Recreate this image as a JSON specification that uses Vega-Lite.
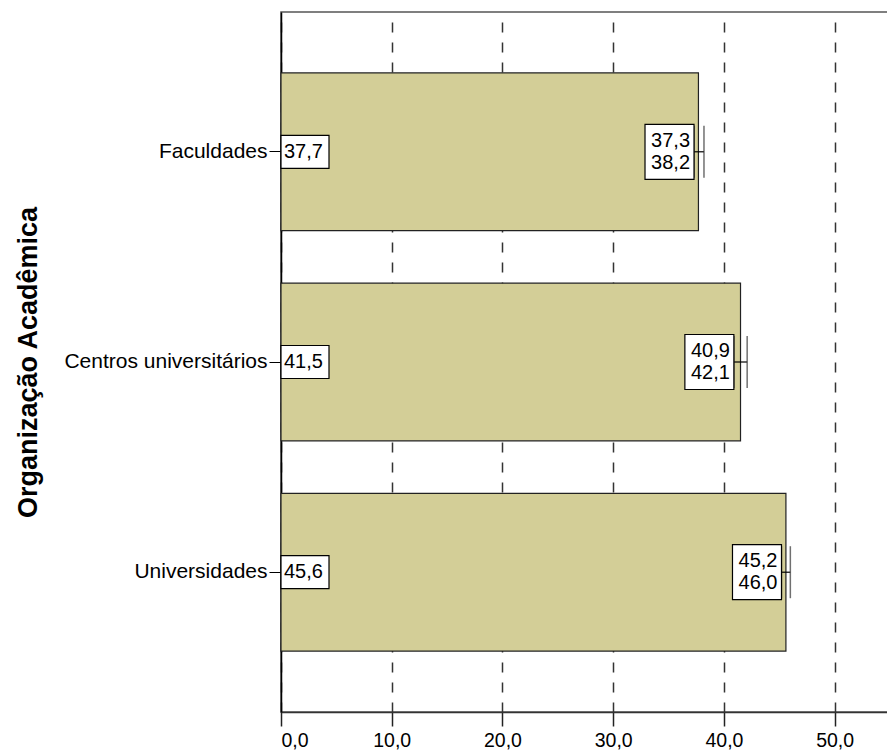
{
  "$schema": "https://vega.github.io/schema/vega-lite/v6.json",
  "autosize": {"type": "none"},
  "padding": {"left": 281, "top": 12, "right": 0, "bottom": 40},
  "width": 609,
  "height": 700,
  "config": {
    "locale": {"number": {"decimal": ",", "thousands": ".", "grouping": [3], "currency": ["", ""]}},
    "font": "Liberation Sans",
    "view": {"stroke": "#555", "strokeWidth": 1.5},
    "background": "white"
  },
  "data": {
    "values": [
      {"org": "Faculdades", "mean": 37.7, "lo": 37.3, "hi": 38.2},
      {"org": "Centros universitários", "mean": 41.5, "lo": 40.9, "hi": 42.1},
      {"org": "Universidades", "mean": 45.6, "lo": 45.2, "hi": 46.0}
    ]
  },
  "encoding": {
    "y": {
      "field": "org",
      "type": "nominal",
      "sort": ["Faculdades", "Centros universitários", "Universidades"],
      "scale": {"paddingInner": 0.25, "paddingOuter": 0.29},
      "axis": {
        "title": "Organização Acadêmica",
        "titleFontSize": 27,
        "titleFontWeight": "bold",
        "titleColor": "#000",
        "titleX": -253,
        "titleY": 350,
        "titleAlign": "center",
        "titleBaseline": "middle",
        "titleAngle": -90,
        "labelFontSize": 21,
        "labelLimit": 400,
        "labelColor": "#000",
        "labelPadding": 2,
        "tickSize": 12,
        "tickColor": "#000",
        "domainColor": "#000",
        "domainWidth": 1.5
      }
    }
  },
  "layer": [
    {
      "mark": {"type": "bar", "fill": "#d3ce97", "stroke": "#222", "strokeWidth": 1.2},
      "encoding": {
        "x": {
          "field": "mean",
          "type": "quantitative",
          "scale": {"domain": [0, 55], "nice": false},
          "axis": {
            "title": null,
            "values": [0, 10, 20, 30, 40, 50],
            "format": ".1f",
            "labelFontSize": 19.5,
            "labelColor": "#000",
            "labelPadding": 5,
            "tickSize": 14,
            "tickWidth": 1.5,
            "tickColor": "#222",
            "domainColor": "#333",
            "domainWidth": 1.5,
            "grid": true,
            "gridColor": "#333",
            "gridWidth": 1.5,
            "gridDash": [10, 10]
          }
        }
      }
    },
    {
      "mark": {"type": "rule", "color": "#000", "strokeWidth": 1.2},
      "encoding": {
        "x": {"field": "lo", "type": "quantitative"},
        "x2": {"field": "hi"}
      }
    },
    {
      "mark": {"type": "tick", "orient": "vertical", "size": 52, "thickness": 1.5, "color": "#333"},
      "encoding": {"x": {"field": "lo", "type": "quantitative"}}
    },
    {
      "mark": {"type": "tick", "orient": "vertical", "size": 52, "thickness": 1.5, "color": "#333"},
      "encoding": {"x": {"field": "hi", "type": "quantitative"}}
    },
    {
      "mark": {"type": "rect", "width": 48, "height": 33, "xOffset": 24, "fill": "white", "stroke": "#000", "strokeWidth": 1.2},
      "encoding": {"x": {"datum": 0, "type": "quantitative"}}
    },
    {
      "mark": {"type": "text", "align": "left", "baseline": "middle", "dx": 3, "fontSize": 20, "color": "#000"},
      "encoding": {
        "x": {"datum": 0, "type": "quantitative"},
        "text": {"field": "mean", "type": "quantitative", "format": ".1f"}
      }
    },
    {
      "mark": {"type": "rect", "width": 49, "height": 55, "xOffset": -24.5, "fill": "white", "stroke": "#000", "strokeWidth": 1.2},
      "encoding": {"x": {"field": "lo", "type": "quantitative"}}
    },
    {
      "mark": {"type": "text", "align": "right", "baseline": "middle", "dx": -4, "dy": -11, "fontSize": 20, "color": "#000"},
      "encoding": {
        "x": {"field": "lo", "type": "quantitative"},
        "text": {"field": "lo", "type": "quantitative", "format": ".1f"}
      }
    },
    {
      "mark": {"type": "text", "align": "right", "baseline": "middle", "dx": -4, "dy": 11, "fontSize": 20, "color": "#000"},
      "encoding": {
        "x": {"field": "lo", "type": "quantitative"},
        "text": {"field": "hi", "type": "quantitative", "format": ".1f"}
      }
    }
  ]
}
